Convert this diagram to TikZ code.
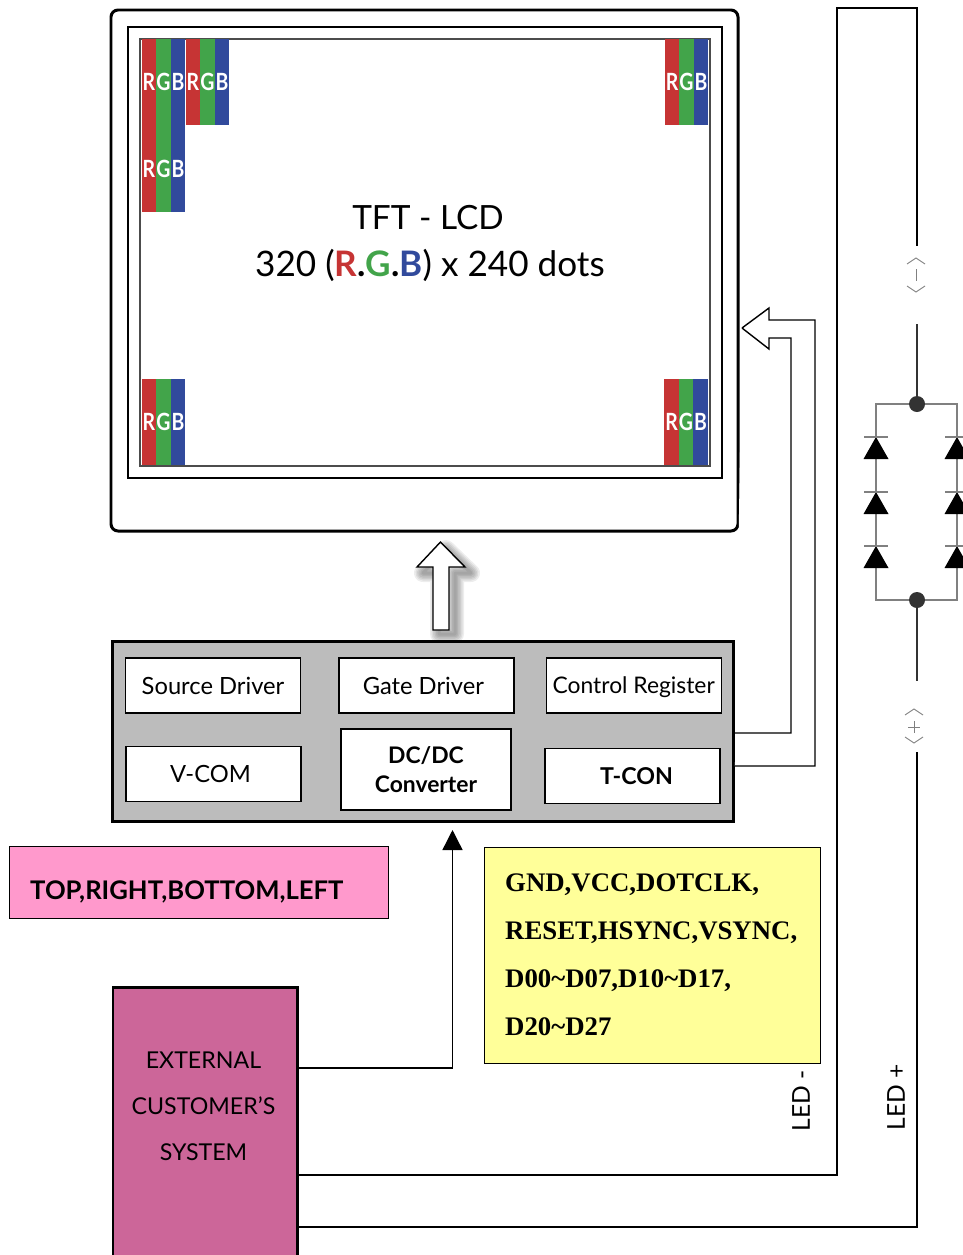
\documentclass[tikz,border=0pt]{standalone}
\usepackage{fontspec}
\setmainfont{Lato}
\newfontfamily\serifbold[BoldFont={Liberation Serif Bold}]{Liberation Serif}
\usetikzlibrary{calc,arrows.meta,positioning}
\definecolor{cellR}{HTML}{C63434}
\definecolor{cellG}{HTML}{42A44A}
\definecolor{cellB}{HTML}{314A9C}
\definecolor{blockgray}{HTML}{BCBCBC}
\definecolor{pinkbox}{HTML}{FF99CC}
\definecolor{yellowbox}{HTML}{FFFF99}
\definecolor{extbox}{HTML}{CC6699}
\newcommand{\rgbcell}[3]{%
  \node[cell,fill=cellR] (#3R) at (#1+7,#2) {\scalebox{.82}[1]{R}};
  \node[cell,fill=cellG,right=0pt of #3R] (#3G) {\scalebox{.82}[1]{G}};
  \node[cell,fill=cellB,right=0pt of #3G] (#3B) {\scalebox{.82}[1]{B}};
}
\newcommand{\diode}[2]{%
  \fill (#1-12.5,#2+22) -- (#1,#2) -- (#1+12.5,#2+22) -- cycle;
  \draw[ledline] (#1-12,#2) -- (#1+12,#2);
}
\newcommand{\chevrons}[2]{%
  \draw[chevron] (#1-9,#2-11) -- (#1,#2-17) -- (#1+9,#2-11);
  \draw[chevron] (#1-9,#2+11) -- (#1,#2+17) -- (#1+9,#2+11);
}
\begin{document}
\begin{tikzpicture}[x=.02cm,y=-.02cm]
\tikzstyle{panel} = [draw,line width=1.7pt,rounded corners=4pt]
\tikzstyle{cell} = [minimum width=.29cm,minimum height=1.73cm,inner sep=0pt,outer sep=0pt,text=white,font=\fontsize{13.5}{13.5}\selectfont\bfseries]
\tikzstyle{driver} = [draw,fill=white,line width=.8pt,minimum width=3.5cm,minimum height=1.1cm,inner sep=0pt,font=\fontsize{13.5}{15}\selectfont]
\tikzstyle{wire} = [line width=.8pt]
\tikzstyle{ledline} = [line width=.7pt,draw=gray]
\tikzstyle{chevron} = [line width=.5pt,draw=gray]
\tikzstyle{dot} = [circle,fill=black!80,minimum size=.32cm,inner sep=0pt]
    \useasboundingbox (0,0) rectangle (963,1255);

    \draw[panel] (111,10) rectangle (738,531);
    \draw[line width=1.4pt] (128,27) rectangle (722,478);
    \draw[line width=.8pt,draw=black!70] (140,39) rectangle (710,466);

    \rgbcell{142}{82}{CellA}
    \rgbcell{186}{82}{CellB}
    \rgbcell{142}{168.5}{CellC}
    \rgbcell{665}{82}{CellD}
    \rgbcell{142}{422}{CellE}
    \rgbcell{664.5}{422}{CellF}

    \node[font=\fontsize{19}{19}\selectfont] (Title) at (428,218) {TFT - LCD};
    \node[font=\fontsize{20}{20}\selectfont] (Dots) at (430,265) {320 ({\bfseries\textcolor{cellR}{R}.\textcolor{cellG}{G}.\textcolor{cellB}{B}}) x 240 dots};

    % arrow up with its shadow
    \foreach \w in {18,15,12,9,6,3}
        \draw[line width=\w*.02cm,black,opacity=.07,line join=round] (446,549) -- (471,573) -- (455,573) -- (455,634) -- (439,634) -- (439,573) -- (423,573) -- cycle;
    \draw[fill=white,line width=.8pt] (440.5,542) -- (465,567) -- (449,567) -- (449,630) -- (433,630) -- (433,567) -- (417,567) -- cycle;

    \node[draw,fill=blockgray,line width=1.7pt,minimum width=12.42cm,minimum height=3.6cm,inner sep=0pt] (Block) at (423,731.5) {};
    \node[driver] (Source) at (213,685.5) {Source Driver};
    \node[driver,right=.74cm of Source] (Gate) {\hspace*{-.12cm}Gate Driver};
    \node[driver,right=.62cm of Gate,text depth=0pt,font=\fontsize{13}{15}\selectfont] (Control) {Control Register};
    \node[driver,below=.64cm of Source,xshift=.01cm] (VCom) {\hspace*{-.12cm}V-COM};
    \node[driver,minimum width=3.4cm,minimum height=1.62cm,font=\fontsize{13}{16.5}\selectfont\bfseries,align=center] (Dcdc) at (426,769.5) {DC/DC\\Converter};
    \node[driver,font=\fontsize{13.2}{15}\selectfont\bfseries] (Tcon) at (632.5,776) {\hspace*{.16cm}T-CON};

    % hollow arrow to the panel
    \coordinate (TconA) at (Block.east |- 0,733);
    \coordinate (TconB) at (Block.east |- 0,766);
    \coordinate (HeadTip) at (742,328);
    \draw[wire,fill=white] (HeadTip) -- (769,308) -- (769,320) -- (815,320) -- (815,766) -- (TconB);
    \draw[wire] (TconA) -- (791,733) -- (791,338) -- (769,338) -- (769,349) -- (HeadTip);

    \node[draw,fill=pinkbox,line width=.8pt,minimum width=7.58cm,minimum height=1.44cm,inner sep=0pt,anchor=north west] (Pink) at (9,846) {};
    \node[font=\fontsize{14.6}{14.6}\selectfont\bfseries,right=.30cm of Pink.west,yshift=-.18cm] (PinkText) {TOP,RIGHT,BOTTOM,LEFT};

    \node[draw,fill=yellowbox,line width=.8pt,minimum width=6.72cm,minimum height=4.32cm,inner sep=0pt,anchor=north west] (Yellow) at (484,847) {};
    \node[anchor=west,align=left,font=\serifbold\fontsize{15.25}{27.4}\selectfont\bfseries] (YellowText) at (499,955) {GND,VCC,DOTCLK,\\RESET,HSYNC,VSYNC,\\D00\textasciitilde D07,D10\textasciitilde D17,\\D20\textasciitilde D27};

    \node[draw,fill=extbox,line width=1.7pt,minimum width=3.7cm,minimum height=6cm,inner sep=0pt,anchor=north west] (External) at (111.5,985.5) {};
    \node[align=center,font=\fontsize{13.2}{26.2}\selectfont] (ExternalText) at (203.5,1106) {EXTERNAL\\CUSTOMER'S\\SYSTEM};

    \coordinate (ExtData) at (External.east |- 0,1068);
    \coordinate (ExtMinus) at (External.east |- 0,1175);
    \coordinate (ExtPlus) at (External.east |- 0,1227);
    \draw[wire,-{Triangle[length=.4cm,width=.4cm]}] (ExtData) -- (452.5,1068) -- (452.5,830);

    % LED string
    \coordinate (MinusEnd) at (917,246);
    \coordinate (PlusEnd) at (917,752);
    \draw[wire] (ExtMinus) -- (837,1175) -- (837,8) -- (917,8) -- (MinusEnd);
    \draw[wire] (ExtPlus) -- (917,1227) -- (PlusEnd);
    \node[dot] (TopDot) at (917,404) {};
    \node[dot] (BottomDot) at (917,600) {};
    \coordinate (MinusStub) at (917,324);
    \coordinate (PlusStub) at (917,681);
    \draw[line width=.6pt,draw=black!80] (MinusStub) -- (TopDot);
    \draw[line width=.6pt,draw=black!80] (BottomDot) -- (PlusStub);
    \draw[ledline] (TopDot) -- (876,404) -- (876,600) -- (BottomDot);
    \draw[ledline] (TopDot) -- (957,404) -- (957,600) -- (BottomDot);
    \foreach \d in {437,492,546} {
        \diode{876}{\d}
        \diode{957}{\d}
    }
    \chevrons{916}{275}
    \draw[chevron] (916,269) -- (916,281);
    \chevrons{914}{726}
    \draw[chevron] (908,727) -- (920,727);
    \draw[chevron] (914,721) -- (914,733);

    \node[rotate=90,font=\fontsize{14}{14}\selectfont] (LedMinus) at (801,1101) {LED -};
    \node[rotate=90,font=\fontsize{14}{14}\selectfont] (LedPlus) at (896,1097.5) {LED +};
\end{tikzpicture}
\end{document}
